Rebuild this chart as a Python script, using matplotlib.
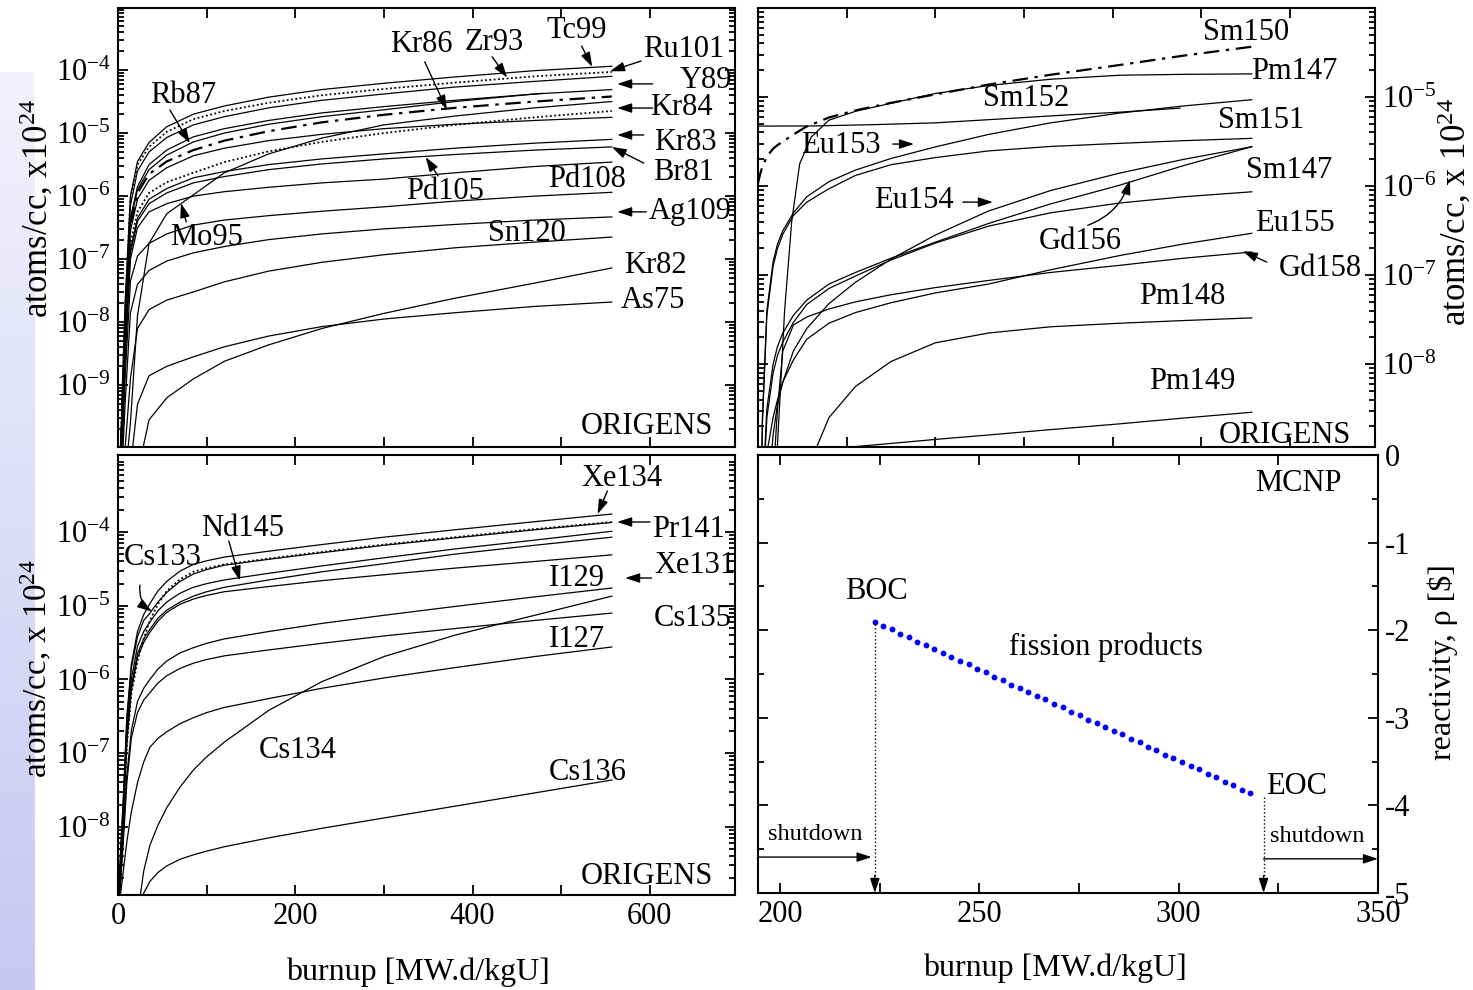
import numpy as np
import matplotlib
matplotlib.use('Agg')
import matplotlib.pyplot as plt
from matplotlib.ticker import LogLocator, NullFormatter, MultipleLocator
from matplotlib.colors import LinearSegmentedColormap

plt.rcParams['font.family'] = ['Liberation Serif', 'DejaVu Serif']
plt.rcParams['mathtext.fontset'] = 'custom'
plt.rcParams['mathtext.rm'] = 'Liberation Serif'
plt.rcParams['mathtext.it'] = 'Liberation Serif:italic'
plt.rcParams['axes.unicode_minus'] = False
FS = 22

# ---- data: log10 of atoms/cc x 1e24 vs burnup [MW.d/kgU] ----
# top-left panel
tl_b = [2, 5, 8, 14, 22, 35, 55, 85, 120, 170, 230, 300, 380, 470, 557]
tc99  = [-10.5, -9.0, -7.7, -6.0, -5.45, -5.15, -4.9, -4.70, -4.57, -4.43, -4.31, -4.21, -4.11, -4.01, -3.94]
ru101 = [-10.5, -9.1, -7.8, -6.05, -5.5, -5.22, -4.98, -4.78, -4.65, -4.52, -4.40, -4.30, -4.20, -4.10, -4.03]
zr93  = [-10.5, -9.2, -7.9, -6.15, -5.6, -5.3, -5.07, -4.87, -4.74, -4.60, -4.48, -4.38, -4.27, -4.18, -4.10]
y89   = [-10.5, -9.3, -8.0, -6.35, -5.85, -5.5, -5.27, -5.06, -4.93, -4.80, -4.68, -4.58, -4.48, -4.38, -4.31]
kr86  = [-10.5, -9.4, -8.1, -6.45, -5.95, -5.65, -5.45, -5.27, -5.12, -4.97, -4.83, -4.71, -4.60, -4.50, -4.42]
mo95  = [-10.5, -10.5, -10.5, -9.6, -7.9, -6.75, -6.28, -5.98, -5.63, -5.33, -5.08, -4.87, -4.73, -4.60, -4.50]
kr84  = [-10.5, -9.5, -8.3, -6.75, -6.25, -5.95, -5.78, -5.63, -5.46, -5.29, -5.14, -5.00, -4.87, -4.75, -4.65]
sr88  = [-10.5, -9.4, -8.2, -6.55, -6.05, -5.75, -5.55, -5.36, -5.24, -5.12, -5.02, -4.93, -4.86, -4.80, -4.75]
kr83  = [-10.5, -9.6, -8.4, -6.85, -6.35, -6.05, -5.88, -5.71, -5.61, -5.50, -5.41, -5.33, -5.24, -5.16, -5.10]
br81  = [-10.5, -9.6, -8.5, -6.9, -6.4, -6.12, -5.95, -5.79, -5.69, -5.58, -5.49, -5.41, -5.34, -5.27, -5.22]
pd108 = [-10.5, -9.7, -8.6, -7.0, -6.5, -6.25, -6.12, -6.0, -5.93, -5.86, -5.79, -5.73, -5.63, -5.53, -5.46]
pd105 = [-10.5, -9.9, -8.9, -7.35, -6.95, -6.75, -6.6, -6.46, -6.38, -6.31, -6.24, -6.17, -6.08, -6.00, -5.94]
ag109 = [-10.5, -10.2, -9.3, -7.85, -7.4, -7.18, -7.03, -6.9, -6.80, -6.69, -6.60, -6.52, -6.45, -6.38, -6.33]
sn120 = [-10.5, -10.5, -10.0, -8.9, -8.1, -7.8, -7.65, -7.52, -7.36, -7.19, -7.05, -6.93, -6.82, -6.73, -6.65]
kr82  = [-10.5, -10.5, -10.5, -10.5, -10.4, -9.55, -9.2, -8.9, -8.62, -8.36, -8.10, -7.86, -7.62, -7.38, -7.14]
as75  = [-10.5, -10.5, -10.5, -10.3, -9.3, -8.85, -8.7, -8.55, -8.39, -8.22, -8.07, -7.95, -7.85, -7.75, -7.68]
rb87_b = [2, 5, 8, 14, 22, 35, 55, 85, 120, 170, 230, 300, 380, 478]
rb87  = [-10.5, -9.3, -8.0, -6.4, -5.9, -5.58, -5.35, -5.14, -5.00, -4.86, -4.74, -4.63, -4.50, -4.37]

# top-right panel
tr_b = [0, 2, 5, 10, 17, 22, 28, 40, 55, 80, 110, 150, 200, 260, 330, 408, 480, 557]
sm150 = [-5.97, -5.88, -5.78, -5.67, -5.58, -5.54, -5.5, -5.42, -5.33, -5.23, -5.15, -5.065, -4.97, -4.86, -4.75, -4.64, -4.535, -4.435]
sm152 = [-10.5, -10.5, -8.6, -7.4, -6.85, -6.65, -6.5, -6.3, -6.12, -5.95, -5.82, -5.69, -5.56, -5.42, -5.29, -5.18, -5.10, -5.03]
sm151 = [-10.5, -10.5, -8.65, -7.45, -6.9, -6.7, -6.54, -6.33, -6.18, -6.03, -5.88, -5.76, -5.68, -5.605, -5.555, -5.52, -5.49, -5.464]
eu154 = [-10.5, -10.5, -10.5, -9.6, -8.8, -8.45, -8.2, -7.85, -7.6, -7.32, -7.08, -6.82, -6.55, -6.28, -6.05, -5.854, -5.70, -5.558]
gd156 = [-10.5, -10.5, -9.5, -8.5, -8.0, -7.8, -7.65, -7.45, -7.28, -7.1, -6.97, -6.81, -6.63, -6.42, -6.20, -5.99, -5.77, -5.558]
sm147 = [-10.5, -10.5, -9.6, -8.6, -8.1, -7.9, -7.75, -7.53, -7.33, -7.15, -7.01, -6.83, -6.64, -6.45, -6.30, -6.19, -6.12, -6.064]
gd158 = [-10.5, -10.5, -10.5, -10.5, -9.3, -8.5, -7.85, -7.56, -7.47, -7.38, -7.30, -7.22, -7.14, -7.06, -6.97, -6.89, -6.81, -6.74]
eu155 = [-10.5, -10.5, -9.6, -9.0, -8.6, -8.4, -8.2, -7.95, -7.72, -7.54, -7.42, -7.31, -7.2, -7.10, -6.94, -6.78, -6.65, -6.53]
pm148 = [-10.5, -10.5, -10.5, -10.5, -10.5, -10.5, -10.5, -10.5, -9.2, -8.6, -8.25, -7.97, -7.76, -7.65, -7.58, -7.54, -7.51, -7.48]
pm149 = [-10.5, -10.5, -10.5, -10.5, -10.5, -10.5, -10.5, -10.5, -10.5, -9.15, -8.925, -8.89, -8.845, -8.795, -8.735, -8.67, -8.605, -8.54]
pm147_b = [15, 22, 30, 38, 47, 60, 80, 110, 150, 200, 260, 330, 408, 480, 557]
pm147 = [-10.5, -8.9, -7.4, -6.4, -5.75, -5.45, -5.26, -5.16, -5.07, -4.96, -4.87, -4.80, -4.755, -4.745, -4.74]
eu153_b = [0, 60, 130, 200, 284, 350, 408, 476]
eu153 = [-5.326, -5.325, -5.31, -5.29, -5.24, -5.20, -5.17, -5.125]

# bottom-left panel
bl_b = [0, 3, 6, 10, 15, 22, 29, 36, 45, 55, 70, 85, 100, 120, 170, 230, 300, 380, 470, 557]
xe134 = [-9.2, -8.3, -7.6, -6.5, -5.8, -5.35, -5.12, -4.97, -4.80, -4.67, -4.53, -4.44, -4.39, -4.34, -4.26, -4.17, -4.07, -3.97, -3.86, -3.756]
pr141 = [-9.2, -8.5, -7.9, -6.9, -6.2, -5.75, -5.45, -5.2, -4.98, -4.8, -4.64, -4.54, -4.49, -4.44, -4.36, -4.27, -4.17, -4.07, -3.96, -3.864]
cs133 = [-9.2, -8.35, -7.65, -6.55, -5.85, -5.42, -5.2, -5.1, -4.95, -4.82, -4.67, -4.57, -4.51, -4.45, -4.37, -4.28, -4.18, -4.08, -3.97, -3.87]
nd145 = [-9.2, -8.45, -7.8, -6.7, -6.0, -5.55, -5.35, -5.22, -5.07, -4.95, -4.83, -4.75, -4.70, -4.65, -4.56, -4.46, -4.35, -4.23, -4.11, -3.99]
nd143 = [-9.2, -8.5, -7.85, -6.8, -6.1, -5.65, -5.45, -5.32, -5.17, -5.06, -4.95, -4.87, -4.81, -4.75, -4.65, -4.54, -4.43, -4.30, -4.18, -4.07]
xe131 = [-9.2, -8.5, -7.9, -6.85, -6.15, -5.7, -5.5, -5.36, -5.21, -5.09, -4.98, -4.91, -4.86, -4.81, -4.74, -4.66, -4.58, -4.49, -4.40, -4.31]
i129  = [-9.2, -8.7, -8.1, -7.3, -6.7, -6.3, -6.12, -6.0, -5.86, -5.75, -5.64, -5.57, -5.51, -5.45, -5.35, -5.24, -5.13, -5.01, -4.88, -4.76]
cs135 = [-9.2, -8.75, -8.2, -7.4, -6.8, -6.45, -6.28, -6.18, -6.05, -5.95, -5.85, -5.78, -5.73, -5.68, -5.6, -5.51, -5.41, -5.31, -5.2, -5.10]
i127  = [-9.2, -8.9, -8.6, -8.2, -7.8, -7.4, -7.12, -6.92, -6.8, -6.71, -6.6, -6.52, -6.45, -6.38, -6.26, -6.12, -5.98, -5.84, -5.69, -5.56]
cs134 = [-10, -10, -10, -10, -10, -9.2, -8.6, -8.25, -7.98, -7.74, -7.46, -7.23, -7.05, -6.85, -6.42, -6.03, -5.69, -5.40, -5.13, -4.87]
cs136 = [-10, -10, -10, -10, -10, -9.4, -8.9, -8.74, -8.62, -8.53, -8.44, -8.38, -8.33, -8.27, -8.15, -8.02, -7.88, -7.72, -7.54, -7.365]

# bottom-right panel: MCNP reactivity [$]
rho_b = [223.8, 225.9, 228.0, 230.2, 232.3, 234.5, 236.6, 238.7, 240.9, 243.0,
         245.2, 247.3, 249.5, 251.6, 253.7, 255.9, 258.0, 260.2, 262.3, 264.4,
         266.6, 268.7, 270.9, 273.0, 275.2, 277.3, 279.4, 281.6, 283.7, 285.9,
         288.0, 290.2, 292.3, 294.4, 296.6, 298.7, 300.9, 303.0, 305.2, 307.3,
         309.4, 311.6, 313.7, 315.9, 318.0]
rho = [-1.91, -1.95, -1.99, -2.04, -2.08, -2.13, -2.17, -2.22, -2.26, -2.31,
       -2.35, -2.39, -2.44, -2.48, -2.53, -2.57, -2.62, -2.66, -2.71, -2.75,
       -2.79, -2.84, -2.88, -2.93, -2.97, -3.02, -3.06, -3.11, -3.15, -3.19,
       -3.24, -3.28, -3.33, -3.37, -3.42, -3.46, -3.51, -3.55, -3.59, -3.64,
       -3.68, -3.73, -3.77, -3.82, -3.86]

SOLID = dict(color='k', lw=0.9, ls='-')
DOT = dict(color='k', lw=1.3, ls=(0, (1, 1.4)))
DASHDOT = dict(color='k', lw=1.6, ls=(0, (7, 3, 1.5, 3)))

W, H = 1473, 990
fig = plt.figure(figsize=(W / 100, H / 100), dpi=100)

# light blue strip on the left
gax = fig.add_axes([0, 0, 35 / W, 918 / H])
cmap = LinearSegmentedColormap.from_list('strip', ['#f2f2fd', '#c8c8f2'])
gax.imshow(np.linspace(0, 1, 256).reshape(-1, 1), aspect='auto', cmap=cmap)
gax.axis('off')


def box(l, t, r, b):
    return [l / W, 1 - b / H, (r - l) / W, (b - t) / H]


def style(ax):
    for s in ax.spines.values():
        s.set_linewidth(1.5)
    ax.tick_params(which='both', direction='in', top=True, right=True,
                   width=1.3, labelsize=FS, pad=5)
    ax.tick_params(which='major', length=7)
    ax.tick_params(which='minor', length=4)


def logy(ax, lo, hi, ticks):
    ax.set_yscale('log')
    ax.set_ylim(10 ** lo, 10 ** hi)
    ax.set_yticks([10.0 ** t for t in ticks],
                  labels=[r'$\mathrm{10^{%d}}$' % t for t in ticks])
    ax.yaxis.set_minor_locator(LogLocator(base=10, subs=np.arange(2, 10), numticks=30))
    ax.yaxis.set_minor_formatter(NullFormatter())


def txt(ax, s, x, ly, size=FS, **kw):
    ax.text(x, 10 ** ly, s, fontsize=size, ha='center', va='center', **kw)


def arrow(ax, x0, y0, x1, y1, rad=0.0):
    ax.annotate('', xy=(x1, y1), xytext=(x0, y0),
                arrowprops=dict(arrowstyle='-|>,head_length=0.55,head_width=0.18',
                                mutation_scale=16, color='k', lw=1,
                                shrinkA=0, shrinkB=0,
                                connectionstyle='arc3,rad=%g' % rad))


def larrow(ax, x0, ly0, x1, ly1, rad=0.0):
    arrow(ax, x0, 10 ** ly0, x1, 10 ** ly1, rad)


def curve(ax, b, lv, st):
    ax.plot(b, 10 ** np.array(lv), **st)


# ---------------- top-left ----------------
ax1 = fig.add_axes(box(118, 8, 735, 447))
for lv, st in [(tc99, SOLID), (ru101, DOT), (zr93, SOLID), (y89, SOLID),
               (kr86, DASHDOT), (mo95, SOLID), (kr84, DOT), (sr88, SOLID),
               (kr83, SOLID), (br81, SOLID), (pd108, SOLID), (pd105, SOLID),
               (ag109, SOLID), (sn120, SOLID), (kr82, SOLID), (as75, SOLID)]:
    curve(ax1, tl_b, lv, st)
curve(ax1, rb87_b, rb87, SOLID)
ax1.set_xlim(0, 696)
ax1.xaxis.set_major_locator(MultipleLocator(100))
logy(ax1, -9.98, -3.016, [-9, -8, -7, -6, -5, -4])
style(ax1)
ax1.tick_params(labelbottom=False)

txt(ax1, 'Rb87', 73, -4.40); larrow(ax1, 58.6, -4.635, 81, -5.16)
txt(ax1, 'Kr86', 342, -3.60); larrow(ax1, 346, -3.87, 371, -4.63)
txt(ax1, 'Zr93', 424, -3.556); larrow(ax1, 422, -3.79, 439, -4.12)
txt(ax1, 'Tc99', 518, -3.365); larrow(ax1, 523, -3.62, 535, -3.95)
txt(ax1, 'Ru101', 638, -3.68); larrow(ax1, 590, -3.857, 555, -4.02)
txt(ax1, 'Y89', 663, -4.16); larrow(ax1, 603, -4.22, 563, -4.22)
txt(ax1, 'Kr84', 636, -4.587); larrow(ax1, 603, -4.603, 563, -4.603)
txt(ax1, 'Kr83', 640, -5.143); larrow(ax1, 593, -5.03, 563, -5.03)
txt(ax1, 'Br81', 638, -5.62); larrow(ax1, 593, -5.476, 557, -5.22)
txt(ax1, 'Pd105', 369, -5.92); larrow(ax1, 361, -5.68, 347, -5.38)
txt(ax1, 'Pd108', 529, -5.73)
txt(ax1, 'Ag109', 645, -6.25); larrow(ax1, 596, -6.25, 563, -6.25)
txt(ax1, 'Sn120', 461, -6.587)
txt(ax1, 'Kr82', 606, -7.095)
txt(ax1, 'As75', 603, -7.65)
txt(ax1, 'Mo95', 100, -6.65); larrow(ax1, 77, -6.41, 71, -6.11)
txt(ax1, 'ORIGENS', 597, -9.65)

# ---------------- top-right ----------------
ax2 = fig.add_axes(box(758, 8, 1375, 447))
curve(ax2, tr_b, sm150, DASHDOT)
for lv in [sm152, sm151, eu154, gd156, sm147, gd158, eu155, pm148, pm149]:
    curve(ax2, tr_b, lv, SOLID)
curve(ax2, pm147_b, pm147, SOLID)
curve(ax2, eu153_b, eu153, SOLID)
ax2.set_xlim(0, 696)
ax2.xaxis.set_major_locator(MultipleLocator(100))
logy(ax2, -8.93, -4.0, [-8, -7, -6, -5])
style(ax2)
ax2.tick_params(labelbottom=False, labelleft=False, labelright=True)

txt(ax2, 'Sm150', 550, -4.28)
txt(ax2, 'Pm147', 604.5, -4.71)
txt(ax2, 'Sm152', 303, -5.011)
txt(ax2, 'Sm151', 567, -5.258)
txt(ax2, 'Eu153', 93.6, -5.54); larrow(ax2, 152, -5.528, 176, -5.528)
txt(ax2, 'Sm147', 599, -5.83)
txt(ax2, 'Eu154', 176, -6.157); larrow(ax2, 231, -6.18, 265, -6.18)
txt(ax2, 'Gd156', 363, -6.618); larrow(ax2, 372, -6.44, 419.5, -5.93, rad=0.25)
txt(ax2, 'Eu155', 605.6, -6.416)
txt(ax2, 'Gd158', 634, -6.92); larrow(ax2, 574, -6.854, 547, -6.73)
txt(ax2, 'Pm148', 479, -7.236)
txt(ax2, 'Pm149', 489.5, -8.20)
txt(ax2, 'ORIGENS', 594, -8.80, clip_on=True)

# ---------------- bottom-left ----------------
ax3 = fig.add_axes(box(118, 455, 735, 895))
curve(ax3, bl_b, xe134, SOLID)
curve(ax3, bl_b, pr141, DOT)
for lv in [cs133, nd145, nd143, xe131, i129, cs135, i127, cs134, cs136]:
    curve(ax3, bl_b, lv, SOLID)
ax3.set_xlim(0, 696)
ax3.set_xticks([0, 200, 400, 600])
ax3.xaxis.set_minor_locator(MultipleLocator(100))
logy(ax3, -8.925, -2.955, [-8, -7, -6, -5, -4])
style(ax3)
ax3.tick_params(axis='x', which='minor', length=7)

txt(ax3, 'Xe134', 568, -3.28); larrow(ax3, 552, -3.444, 541, -3.756)
txt(ax3, 'Pr141', 644, -3.97); larrow(ax3, 600, -3.864, 563, -3.864)
txt(ax3, 'Xe131', 651, -4.45); larrow(ax3, 602, -4.624, 572, -4.624)
txt(ax3, 'I129', 518, -4.624)
txt(ax3, 'Cs135', 648, -5.167)
txt(ax3, 'I127', 518, -5.465)
txt(ax3, 'Cs136', 530, -7.257)
txt(ax3, 'Cs134', 203, -6.96)
txt(ax3, 'Nd145', 141, -3.946); larrow(ax3, 125, -4.122, 137.6, -4.66)
txt(ax3, 'Cs133', 50.7, -4.35); larrow(ax3, 24.8, -4.72, 38.3, -5.08, rad=0.3)
txt(ax3, 'ORIGENS', 597, -8.68)

# ---------------- bottom-right ----------------
ax4 = fig.add_axes(box(758, 455, 1378, 893))
ax4.plot(rho_b, rho, 'o', color='#0000ff', ms=4.2, mec='none')
ax4.set_xlim(194.5, 350)
ax4.set_ylim(-5, 0)
ax4.set_xticks([200, 250, 300, 350])
ax4.xaxis.set_minor_locator(MultipleLocator(25))
ax4.set_yticks([-5, -4, -3, -2, -1, 0])
ax4.yaxis.set_minor_locator(MultipleLocator(0.5))
style(ax4)
ax4.tick_params(axis='x', which='minor', length=7)
ax4.tick_params(labelleft=False, labelright=True)

ax4.plot([223.8, 223.8], [-1.93, -4.85], color='k', lw=1, ls=':')
arrow(ax4, 223.8, -4.8, 223.8, -5.0)
ax4.plot([321.3, 321.3], [-3.9, -4.85], color='k', lw=1, ls=':')
arrow(ax4, 321.3, -4.8, 321.3, -5.0)
arrow(ax4, 194.5, -4.59, 223.0, -4.59)
arrow(ax4, 321.3, -4.61, 350, -4.61)
ax4.text(208.8, -4.33, 'shutdown', fontsize=17.5, ha='center', va='center')
ax4.text(334.8, -4.36, 'shutdown', fontsize=17.5, ha='center', va='center')
ax4.text(224.3, -1.56, 'BOC', fontsize=FS, ha='center', va='center')
ax4.text(281.8, -2.2, 'fission products', fontsize=FS, ha='center', va='center')
ax4.text(322, -3.78, 'EOC', fontsize=FS, ha='left', va='center')
ax4.text(330, -0.33, 'MCNP', fontsize=FS, ha='center', va='center')

# axis titles
fig.text(37 / W, 1 - 208 / H, 'atoms/cc, x10$^{24}$', fontsize=25, rotation=90,
         ha='center', va='center')
fig.text(37 / W, 1 - 668 / H, 'atoms/cc, x 10$^{24}$', fontsize=24, rotation=90,
         ha='center', va='center')
fig.text(1455 / W, 1 - 212 / H, 'atoms/cc, x 10$^{24}$', fontsize=25, rotation=90,
         ha='center', va='center')
fig.text(1443 / W, 1 - 662 / H, 'reactivity, ρ [$]', fontsize=23, rotation=90,
         ha='center', va='center')
fig.text(418 / W, 1 - 972 / H, 'burnup [MW.d/kgU]', fontsize=23, ha='center', va='center')
fig.text(1055 / W, 1 - 968 / H, 'burnup [MW.d/kgU]', fontsize=23, ha='center', va='center')

fig.savefig('out.png', dpi=100)
